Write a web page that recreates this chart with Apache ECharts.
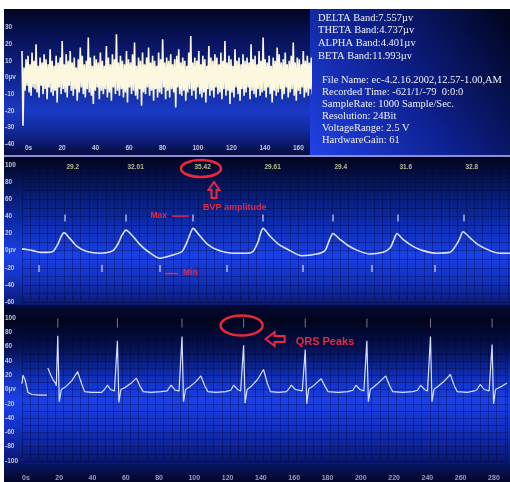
<!DOCTYPE html>
<html><head><meta charset="utf-8">
<script src="https://cdn.jsdelivr.net/npm/echarts@6/dist/echarts.min.js"></script>
<style>html,body{margin:0;padding:0;background:#fff;}#c{width:510px;height:482px;}</style>
</head><body><div id="c"></div>
<script>
// ---------- data ----------
const eegXLabels = ['0s','20','40','60','80','100','120','140','160'];
const eegYLabels = ['-40','-30','-20','-10','0µv','10','20','30',''];
const eegStep = 0.6; // time units per sample
const eegValues = [16,-29,
6,-8,11,-5,13,-9,8,-11,15,-6,10,-7,20,-9,7,-12,12,-5,9,-10,14,-7,11,-13,
8,-6,17,-9,10,-11,7,-8,13,-15,9,-6,12,-10,22,-7,8,-9,14,-12,10,-5,16,-8,
9,-11,12,-7,6,-14,11,-9,18,-6,13,-10,8,-12,10,-7,24,-9,12,-11,7,-16,13,-8,
11,-6,9,-13,15,-8,10,-10,7,-7,19,-12,12,-9,8,-14,14,-6,11,-10,26,-8,9,-11,
13,-7,10,-12,8,-9,16,-15,11,-6,9,-10,14,-8,21,-11,7,-13,12,-7,10,-17,15,-9,
8,-10,12,-6,18,-11,9,-8,13,-14,10,-7,7,-12,15,-9,11,-10,23,-6,9,-13,12,-8,
10,-12,14,-7,8,-9,11,-18,13,-6,17,-10,9,-11,12,-8,10,-14,7,-9,15,-7,25,-11,
9,-8,12,-13,10,-6,16,-10,8,-12,13,-9,11,-15,7,-7,19,-11,12,-8,10,-12,14,-6,
12,-10,8,-9,15,-13,10,-7,22,-11,9,-8,13,-16,11,-9,7,-12,17,-6,10,-10,12,-14,
8,-7,14,-11,10,-9,12,-6,9,-13,20,-8,11,-10,13,-12,8,-7,16,-11,10,-9,24,-8,
11,-12,9,-6,13,-10,7,-15,12,-8,10,-11,18,-9,14,-7,9,-13,11,-10,15,-6,8,-12,
10,-9,13,-7,21,-11,9,-14,12,-8,11,-10,8,-6,16,-12,10,-9,13,-11,9,-7,12,-10];

const bvpYLabels = ['-60','-40','-20','0µv','20','40','60','80','100'];
const bvpTime   = [0,6,11,18,26,31,36,39,42,48,55,65,78,91,96,100,104,110,118,126,138,151,160,165,168,171,178,185,195,211,225,231,236,238,241,248,256,265,280,295,303,306,308,311,318,326,336,348,361,368,372,375,381,391,401,415,428,435,438,441,448,456,468,478,488];
const bvpValues = [2,1,0,-2,-2,-1,8,16,21,14,5,-1,-3,0,8,18,24,18,7,-1,-9,-5,-1,10,19,26,17,8,1,-3,-3,-1,10,18,26,17,8,2,-6,-4,0,8,14,20,13,6,0,-4,-2,3,13,20,13,5,0,-3,-2,8,15,22,15,7,0,-3,-3];
const bvpMaxTime = [43,104,171,241,311,376,442];
const bvpMinTime = [17,80,138,205,281,350,413];
const bvpAmplitudes = ['29.2','32.01','35.42','29.61','29.4','31.6','32.8'];

const ecgXLabels = ['0s','20','40','60','80','100','120','140','160','180','200','220','240','260','280'];
const ecgYLabels = ['-100','-80','-60','-40','-20','0µv','20','40','60','80','100'];
const ecgTime = [0,1,3,6,10,18,25,25.5,26,29,32,34,34.5,36,37.5,39.5,44,50,56,60,63,70,80,83,86,89,93,94.5,96,97.5,99.5,104,110,115,119,122,130,140,146,150,154,158,159.5,161,162.5,164.5,169,175,180,184,187,195,205,210,213,217,220,221.5,223,224.5,226.5,231,237,243,247,250,258,266,268,271,275,282,283.5,285,286.5,288.5,293,297,301,305,308,318,328,333,336,340,344,345.5,347,348.5,350.5,355,360,366,370,373,383,393,398,401,405,408,409.5,411,412.5,414.5,419,425,431,435,438,448,455,458,461,465,470,471.5,473,474.5,476.5,482,488];
const ecgValues = [8,20,14,-4,-7,-8,-8,null,30,20,12,8,5,75,-17,0,4,12,25,8,-3,-4,-4,0,6,0,-2,-4,68,-18,0,3,9,16,4,-3,-4,-3,-2,6,-1,-2,-4,74,-17,0,4,11,19,5,-3,-4,-3,-1,6,0,-2,-4,62,-19,0,5,14,28,8,-3,-4,-3,0,6,0,-2,-4,56,-20,1,5,10,15,4,-3,-4,-3,-1,6,0,-2,-4,68,-17,0,5,11,19,5,-3,-4,-3,-1,6,0,-2,-4,74,-17,0,5,12,21,5,-3,-4,-2,0,7,0,-2,-4,63,-20,0,4,9];
const qrsPeakTime = [36,96,161,223,285,347,411,473];

const infoBands = ['DELTA Band:7.557µv','THETA Band:4.737µv','ALPHA Band:4.401µv','BETA Band:11.993µv'];
const infoFile = ['File Name: ec-4.2.16.2002,12.57-1.00,AM','Recorded Time: -621/1/-79  0:0:0','SampleRate: 1000 Sample/Sec.','Resolution: 24Bit','VoltageRange: 2.5 V','HardwareGain: 61'];

// ---------- chart ----------
const chart = echarts.init(document.getElementById('c'));
const LG = echarts.graphic.LinearGradient;
const lab = {fontSize:6.5, fontWeight:'bold', color:'rgba(215,218,240,0.9)', fontFamily:'Liberation Sans'};
const gridLineColor = 'rgba(0,4,45,0.33)';
const eegData = eegValues.map((v,i)=>[i*eegStep, v]);
const bvpData = bvpTime.map((t,i)=>[t, bvpValues[i]]);
const ecgData = ecgTime.map((t,i)=>[t, ecgValues[i]===null ? '-' : ecgValues[i]]);

const yAx = (g, min, max, itv, labels, split) => ({
  gridIndex:g, type:'value', min:min, max:max, interval:itv,
  axisLine:{show:false}, axisTick:{show:false},
  axisLabel:Object.assign({}, lab, {align:'left', margin:17, formatter:(v,i)=>labels[i] ?? ''}),
  splitLine:{show:split, lineStyle:{color:gridLineColor, width:1}},
  minorTick:{show:false, splitNumber:2},
  minorSplitLine:{show:split, lineStyle:{color:gridLineColor, width:1}}
});

chart.setOption({
  backgroundColor:'#ffffff',
  animation:false,
  grid:[
    {left:22, right:200, top:11, bottom:338},
    {left:22, right:0, top:165, bottom:180},
    {left:22, right:0, top:318, bottom:15}
  ],
  xAxis:[
    {gridIndex:0, type:'value', min:0, max:172, interval:20,
     axisLine:{show:false},
     axisTick:{show:true, length:6, lineStyle:{color:'rgba(200,205,235,0.8)'}},
     axisLabel:Object.assign({}, lab, {margin:1, align:'left', padding:[0,0,0,3], formatter:(v,i)=>eegXLabels[i] ?? ''}),
     splitLine:{show:false}},
    {gridIndex:1, type:'value', min:0, max:488, interval:33.5,
     axisLine:{show:false}, axisTick:{show:false}, axisLabel:{show:false},
     splitLine:{show:true, lineStyle:{color:gridLineColor}},
     minorTick:{show:false, splitNumber:4},
     minorSplitLine:{show:true, lineStyle:{color:gridLineColor}}},
    {gridIndex:2, type:'value', min:0, max:488, interval:33.5,
     axisLine:{show:false}, axisTick:{show:false},
     axisLabel:Object.assign({}, lab, {fontSize:7, margin:14, align:'left', color:'rgba(215,218,240,0.7)', formatter:(v,i)=>ecgXLabels[i] ?? ''}),
     splitLine:{show:true, lineStyle:{color:gridLineColor}},
     minorTick:{show:false, splitNumber:4},
     minorSplitLine:{show:true, lineStyle:{color:gridLineColor}}}
  ],
  yAxis:[
    yAx(0, -40, 40, 10, eegYLabels, false),
    yAx(1, -60, 100, 20, bvpYLabels, true),
    yAx(2, -100, 100, 20, ecgYLabels, true)
  ],
  series:[
    {type:'line', xAxisIndex:0, yAxisIndex:0, data:eegData, showSymbol:false, symbol:'none',
     lineStyle:{width:1.6, color:'#fcf8e0'}, z:3},
    {type:'line', xAxisIndex:1, yAxisIndex:1, data:bvpData, showSymbol:false, symbol:'none', smooth:0.25,
     lineStyle:{width:1.6, color:'#d8e2ff'}, z:3},
    {type:'scatter', xAxisIndex:1, yAxisIndex:1, data:bvpMaxTime.map(t=>[t,38]), symbol:'rect', symbolSize:[1.3,7],
     itemStyle:{color:'#eef0ff'}, z:4},
    {type:'scatter', xAxisIndex:1, yAxisIndex:1, data:bvpMinTime.map(t=>[t,-21]), symbol:'rect', symbolSize:[1.3,7],
     itemStyle:{color:'#eef0ff'}, z:4},
    {type:'scatter', xAxisIndex:1, yAxisIndex:1, data:bvpMaxTime.map(t=>[t,100]), symbolSize:1, clip:false,
     itemStyle:{color:'transparent'},
     label:{show:true, position:'right', distance:1, offset:[0,2], formatter:p=>bvpAmplitudes[p.dataIndex],
            fontSize:6.5, fontWeight:'bold', color:'#e2e6a0', fontFamily:'Liberation Sans'}, z:4},
    {type:'line', xAxisIndex:2, yAxisIndex:2, data:ecgData, showSymbol:false, symbol:'none', connectNulls:false,
     lineStyle:{width:1.2, color:'#d8e0ff'}, z:3},
    {type:'scatter', xAxisIndex:2, yAxisIndex:2, data:qrsPeakTime.map(t=>[t,93]), symbol:'rect', symbolSize:[1,9],
     itemStyle:{color:'rgba(235,200,225,0.7)'}, z:4}
  ]
});

// ---------- backgrounds & annotations ----------
const px = (g, x, y) => chart.convertToPixel({gridIndex:g}, [x, y]);
const RED = '#e8283c';
const g = [];
g.push({type:'rect', z:-10, silent:true, shape:{x:4, y:9, width:306, height:146},
  style:{fill:new LG(0,0,0,1,[
    {offset:0, color:'#02051f'},{offset:0.14, color:'#060f4c'},{offset:0.47, color:'#0f258f'},
    {offset:0.7, color:'#1a3ac6'},{offset:0.84, color:'#122899'},{offset:1, color:'#060c3e'}])}});
g.push({type:'rect', z:-10, silent:true, shape:{x:310, y:9, width:200, height:146},
  style:{fill:new LG(0,1,1,0,[
    {offset:0, color:'#2142e6'},{offset:0.5, color:'#0c1f8a'},{offset:1, color:'#01041a'}])}});
g.push({type:'rect', z:-9, silent:true, shape:{x:4, y:155, width:506, height:2}, style:{fill:'#8e8ed8'}});
g.push({type:'rect', z:-10, silent:true, shape:{x:4, y:157, width:506, height:148},
  style:{fill:new LG(0,0,0,1,[
    {offset:0, color:'#01041c'},{offset:0.12, color:'#041045'},{offset:0.43, color:'#0c2aa8'},
    {offset:0.66, color:'#1a40e6'},{offset:0.8, color:'#1535c8'},{offset:1, color:'#0a1a70'}])}});
g.push({type:'rect', z:-10, silent:true, shape:{x:4, y:305, width:506, height:177},
  style:{fill:new LG(0,0,0,1,[
    {offset:0, color:'#030a38'},{offset:0.085, color:'#01041a'},{offset:0.25, color:'#051254'},
    {offset:0.42, color:'#1232c0'},{offset:0.54, color:'#1a40e8'},{offset:0.68, color:'#1432c8'},
    {offset:0.85, color:'#0a1d80'},{offset:1, color:'#020628'}])}});

infoBands.forEach((t,i)=>g.push({type:'text', z:10, silent:true,
  style:{text:t, x:318, y:18 + i*12.6, fill:'#f0f0f4', fontSize:10.5, fontFamily:'Liberation Serif', verticalAlign:'middle'}}));
infoFile.forEach((t,i)=>g.push({type:'text', z:10, silent:true,
  style:{text:t, x:322, y:80 + i*12, fill:'#f0f0f4', fontSize:10.5, fontFamily:'Liberation Serif', verticalAlign:'middle'}}));

// BVP amplitude annotation
const A = px(1, bvpMaxTime[2], 100);
g.push({type:'ellipse', z:20, silent:true, shape:{cx:A[0]+8, cy:A[1]+3.5, rx:20, ry:8.5},
  style:{fill:'none', stroke:RED, lineWidth:2.5}});
(function(){
  const cx = A[0]+21, ty = A[1]+17;
  g.push({type:'polygon', z:20, silent:true, shape:{points:[
    [cx,ty],[cx+5.5,ty+8],[cx+2.5,ty+8],[cx+2.5,ty+16],[cx-2.5,ty+16],[cx-2.5,ty+8],[cx-5.5,ty+8]]},
    style:{fill:'none', stroke:RED, lineWidth:2}});
})();
g.push({type:'text', z:20, silent:true, style:{text:'BVP amplitude', x:A[0]+10, y:A[1]+43, fill:RED,
  fontSize:9, fontWeight:'bold', fontFamily:'Liberation Sans', verticalAlign:'middle'}});

const M = px(1, bvpMaxTime[2], 38);
g.push({type:'text', z:20, silent:true, style:{text:'Max', x:M[0]-26, y:M[1]-2, fill:RED, align:'right',
  fontSize:8.5, fontWeight:'bold', fontFamily:'Liberation Sans', verticalAlign:'middle'}});
g.push({type:'line', z:20, silent:true, shape:{x1:M[0]-21, y1:M[1]-2, x2:M[0]-4, y2:M[1]-2},
  style:{stroke:RED, lineWidth:1.5}});
const N = px(1, bvpMinTime[2], -21);
g.push({type:'line', z:20, silent:true, shape:{x1:N[0]+5, y1:N[1]+5, x2:N[0]+18, y2:N[1]+5},
  style:{stroke:RED, lineWidth:1.5}});
g.push({type:'text', z:20, silent:true, style:{text:'Min', x:N[0]+23, y:N[1]+4, fill:RED,
  fontSize:8.5, fontWeight:'bold', fontFamily:'Liberation Sans', verticalAlign:'middle'}});

// QRS annotation
const Q = px(2, qrsPeakTime[3], 93);
g.push({type:'ellipse', z:20, silent:true, shape:{cx:Q[0]-2, cy:Q[1]+2.5, rx:21, ry:10},
  style:{fill:'none', stroke:RED, lineWidth:2.5}});
(function(){
  const tx = Q[0]+22, ty = Q[1]+16;
  g.push({type:'polygon', z:20, silent:true, shape:{points:[
    [tx,ty],[tx+9,ty-7],[tx+9,ty-3],[tx+19,ty-3],[tx+19,ty+3],[tx+9,ty+3],[tx+9,ty+7]]},
    style:{fill:'none', stroke:RED, lineWidth:2}});
})();
g.push({type:'text', z:20, silent:true, style:{text:'QRS Peaks', x:Q[0]+52, y:Q[1]+19, fill:RED,
  fontSize:11, fontWeight:'bold', fontFamily:'Liberation Sans', verticalAlign:'middle'}});

chart.setOption({graphic:g});
</script>
</body></html>
